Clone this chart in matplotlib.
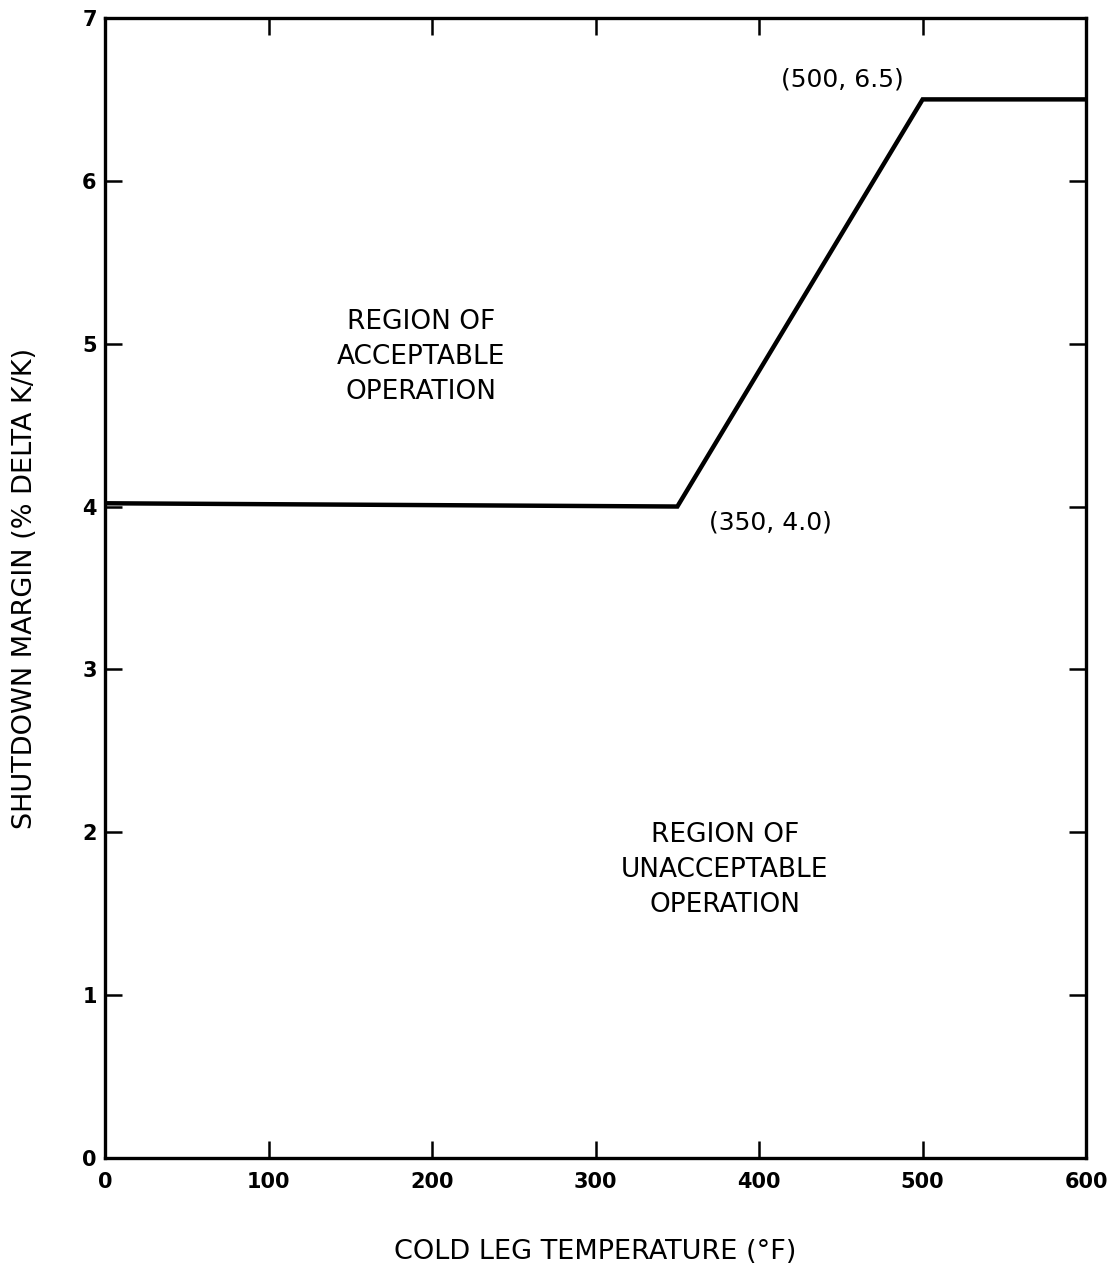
import matplotlib
matplotlib.use("Agg")
import matplotlib.pyplot as plt

# Data
temperature = [0, 350, 500, 600]
margin = [4.02, 4.0, 6.5, 6.5]
x_ticks = [0, 100, 200, 300, 400, 500, 600]
y_ticks = [0, 1, 2, 3, 4, 5, 6, 7]
point_labels = ["(500, 6.5)", "(350, 4.0)"]
point_label_pos = [(451, 6.62), (407, 3.90)]
region_labels = ["REGION OF\nACCEPTABLE\nOPERATION", "REGION OF\nUNACCEPTABLE\nOPERATION"]
region_label_pos = [(193, 4.92), (379, 1.77)]

plt.rcParams['font.family'] = ['DejaVu Sans']
fig = plt.figure(figsize=(11.14, 12.74), dpi=100)
ax = fig.add_axes([0.0943, 0.0911, 0.8807, 0.8948])

ax.plot(temperature, margin, color='black', linewidth=3.2, solid_joinstyle='miter',
        solid_capstyle='butt', zorder=3)

ax.set_xlim(0, 600)
ax.set_ylim(0, 7)
ax.set_xticks(x_ticks)
ax.set_yticks(y_ticks)
ax.tick_params(axis='both', direction='in', length=12, width=1.8, labelsize=15,
               top=True, right=True)
ax.tick_params(axis='x', pad=10)
ax.tick_params(axis='y', pad=6)
for lab in ax.get_xticklabels() + ax.get_yticklabels():
    lab.set_fontweight('bold')
for s in ax.spines.values():
    s.set_linewidth(2.4)

for txt, (x, y) in zip(point_labels, point_label_pos):
    ax.text(x, y, txt, ha='center', va='center', fontsize=18)
for txt, (x, y) in zip(region_labels, region_label_pos):
    ax.text(x, y, txt, ha='center', va='center', fontsize=19, linespacing=1.45)

ax.set_xlabel("COLD LEG TEMPERATURE (°F)", fontsize=19.5, labelpad=34)
ax.set_ylabel("SHUTDOWN MARGIN (% DELTA K/K)", fontsize=19.5, labelpad=32)

fig.savefig("out.png", dpi=100)
